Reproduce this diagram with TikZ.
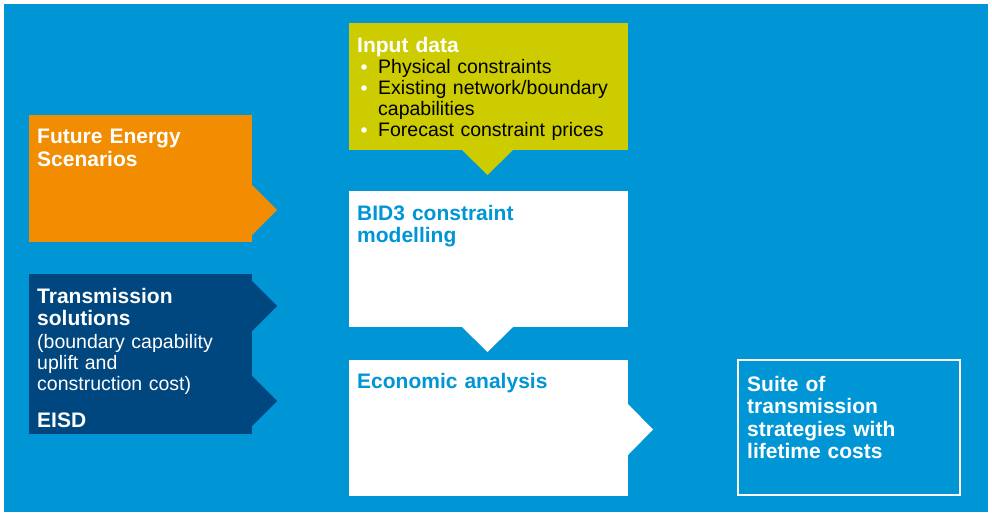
\documentclass[tikz,border=0pt]{standalone}
\usepackage{fontspec}
\setmainfont{Liberation Sans}
\usetikzlibrary{calc}
\definecolor{bgblue}{RGB}{0,150,214}
\definecolor{fesorange}{RGB}{242,140,0}
\definecolor{navy}{RGB}{0,70,127}
\definecolor{lime}{RGB}{204,204,0}
\newcommand{\mybul}{\makebox[21pt][l]{\hspace{4pt}\raisebox{4.2pt}{\tikz\fill[white] (0,0) circle (2.8pt);}}}
\begin{document}
\begin{tikzpicture}[x=1pt,y=-1pt,
  panel/.style={rectangle, inner sep=0pt, outer sep=0pt, anchor=north west},
  head/.style={anchor=base west, inner sep=0pt, align=left, text width=260pt,
    font=\fontsize{21}{22.5}\selectfont\bfseries},
  body/.style={anchor=base west, inner sep=0pt, align=left, text width=260pt,
    font=\fontsize{19.5}{21}\selectfont}
]
\useasboundingbox (0,0) rectangle (992,513);
\fill[bgblue] (4,4) rectangle (988,512);

% panels
\node[panel, fill=fesorange, minimum width=223pt, minimum height=127pt] (fes) at (29,115) {};
\node[panel, fill=navy, minimum width=223pt, minimum height=160pt] (ts) at (29,274) {};
\node[panel, fill=lime, minimum width=279pt, minimum height=127pt] (input) at (349,23) {};
\node[panel, fill=white, minimum width=279pt, minimum height=136pt] (bid) at (349,191) {};
\node[panel, fill=white, minimum width=279pt, minimum height=136pt] (econ) at (349,360) {};
\node[panel, draw=white, line width=2pt, minimum width=222pt, minimum height=135pt] (suite) at (738,360) {};

% arrow notches
\fill[fesorange] ($(fes.north east)+(0,70)$) -- ($(fes.north east)+(25,95)$) -- ($(fes.north east)+(0,120)$) -- cycle;
\fill[navy] ($(ts.north east)+(0,7)$) -- ($(ts.north east)+(25,32)$) -- ($(ts.north east)+(0,57)$) -- cycle;
\fill[navy] ($(ts.north east)+(0,102)$) -- ($(ts.north east)+(25,127)$) -- ($(ts.north east)+(0,152)$) -- cycle;
\fill[lime] ($(input.south west)+(113,0)$) -- ($(input.south west)+(138.5,25)$) -- ($(input.south west)+(164,0)$) -- cycle;
\fill[white] ($(bid.south west)+(113,0)$) -- ($(bid.south west)+(138.5,25)$) -- ($(bid.south west)+(164,0)$) -- cycle;
\fill[white] ($(econ.north east)+(0,44)$) -- ($(econ.north east)+(25,69.5)$) -- ($(econ.north east)+(0,95)$) -- cycle;

% texts
\node[head, text=white] (festxt) at (37,144) {Future Energy\\Scenarios};
\node[head, text=white] (inputtxt) at (357,53) {Input data};
\node[body, text=black] (inputlist) at (357,74) {%
  \mybul Physical constraints\\
  \mybul Existing network/boundary\\
  \makebox[21pt][l]{}capabilities\\
  \mybul Forecast constraint prices};
\node[head, text=bgblue] (bidtxt) at (357,220) {BID3 constraint\\modelling};
\node[head, text=white] (tstxt) at (37,303) {Transmission\\solutions};
\node[body, text=white] (tsbody) at (37,348) {(boundary capability\\uplift and\\construction cost)};
\node[head, text=white] (eisd) at (37,427) {EISD};
\node[head, text=bgblue] (econtxt) at (357,388) {Economic analysis};
\node[head, text=white] (suitetxt) at (747,391) {Suite of\\transmission\\strategies with\\lifetime costs};
\end{tikzpicture}
\end{document}
